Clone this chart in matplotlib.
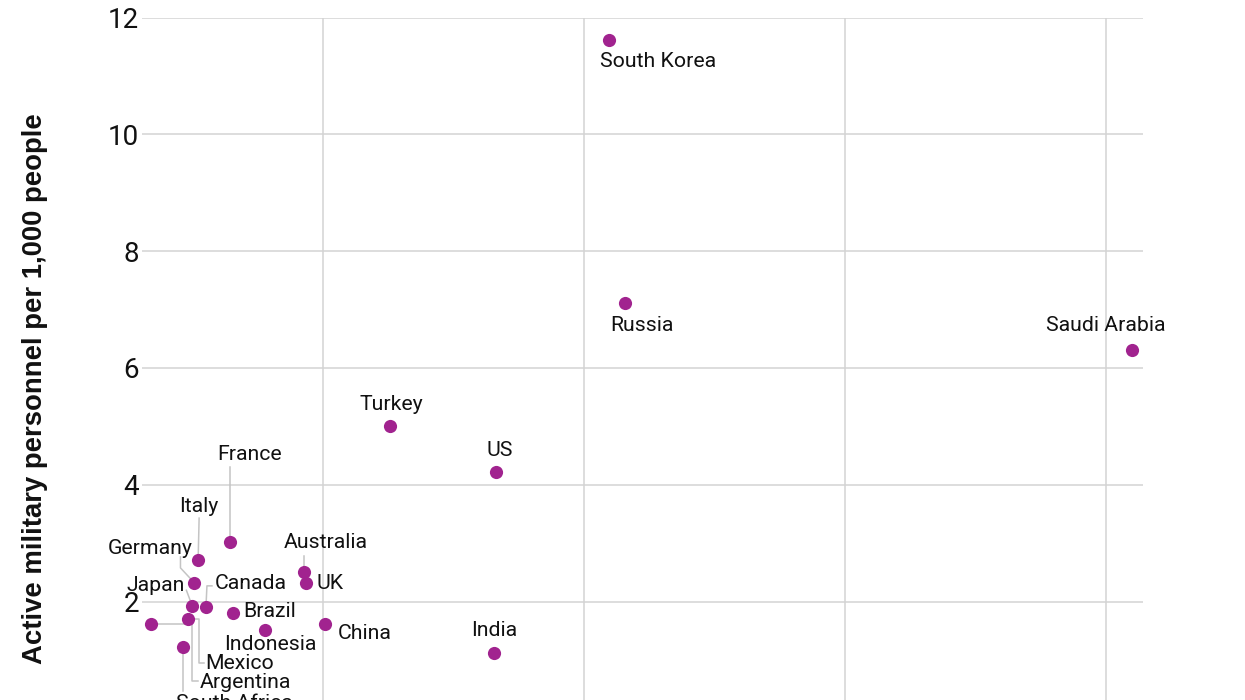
import matplotlib
matplotlib.use("Agg")
import matplotlib.pyplot as plt
from matplotlib.transforms import IdentityTransform

countries = ["South Korea", "Russia", "Saudi Arabia", "Turkey", "US", "France", "Italy",
             "Australia", "Germany", "UK", "Japan", "Canada", "Mexico", "Argentina",
             "South Africa", "Brazil", "Indonesia", "China", "India"]
x_values = [10.48, 10.78, 20.50, 6.28, 8.31, 3.21, 2.60,
            4.63, 2.53, 4.67, 2.49, 2.75, 2.41, 1.70,
            2.31, 3.27, 3.88, 5.03, 8.27]
y_values = [11.62, 7.11, 6.31, 5.01, 4.22, 3.02, 2.71,
            2.51, 2.32, 2.32, 1.92, 1.91, 1.70, 1.61,
            1.22, 1.80, 1.51, 1.61, 1.12]
y_ticks = [2, 4, 6, 8, 10, 12]
x_ticks = [5, 10, 15, 20]
y_title = "Active military personnel per 1,000 people"

# label placement in image pixels relative to dot centre (dx right, dy down), ha
label_style = {
    "South Korea": ((49, 22), "center", None),
    "Russia": ((17, 22), "center", None),
    "Saudi Arabia": ((-26, -24), "center", None),
    "Turkey": ((1, -21), "center", None),
    "US": ((4, -21), "center", None),
    "France": ((20, -88), "center", [(0, -75), (0, 0)]),
    "Italy": ((1, -54), "center", [(1, -42), (0, 0)]),
    "Australia": ((22, -29), "center", [(0, -16), (0, 0)]),
    "Germany": ((-44, -34), "center", [(-14, -26), (-14, -15), (0, 0)]),
    "UK": ((10, 1), "left", None),
    "Japan": ((-37, -21), "center", [(-6, -16), (0, 0)]),
    "Canada": ((45, -23), "center", [(6, -21), (1, -21), (0, 0)]),
    "Mexico": ((17, 44), "left", [(0, 0), (11, 0), (11, 44), (16, 44)]),
    "Argentina": ((49, 58), "left", [(0, 0), (41, 0), (41, 57), (47, 57)]),
    "South Africa": ((-7, 56), "left", [(0, 0), (0, 44)]),
    "Brazil": ((10, -2), "left", None),
    "Indonesia": ((5, 14), "center", None),
    "China": ((13, 9), "left", None),
    "India": ((0, -22), "center", None),
}

W, H, DPI = 1245, 700, 100
fig = plt.figure(figsize=(W / DPI, H / DPI), dpi=DPI)
fig.patch.set_facecolor("white")

left_px, right_px, top_px, bottom_px = 142, 1142.7, 17.6, 718.4
ax = fig.add_axes([left_px / W, 1 - bottom_px / H,
                   (right_px - left_px) / W, (bottom_px - top_px) / H])
ax.set_xlim(1.524, 20.71)
ax.set_ylim(0, 12)
for s in ax.spines.values():
    s.set_visible(False)
ax.set_yticks(y_ticks)
ax.set_xticks(x_ticks)
ax.grid(True, color="#d3d3d3", linewidth=1.1)
ax.set_axisbelow(True)
ax.tick_params(axis="both", length=0, labelsize=20, labelcolor="#111111", pad=2)
ax.tick_params(axis="x", labelbottom=False)
for lab in ax.get_yticklabels():
    lab.set_fontfamily("Roboto")

dot_color = "#a1238f"
ax.scatter(x_values, y_values, s=90, color=dot_color, zorder=4, clip_on=False,
           linewidths=0)

fig.canvas.draw()
for name, xv, yv in zip(countries, x_values, y_values):
    (dx, dy), ha, leader = label_style[name]
    px, py = ax.transData.transform((xv, yv))
    if leader:
        xs = [px + a for a, b in leader]
        ys = [py - b for a, b in leader]
        ax.add_line(plt.Line2D(xs, ys, transform=IdentityTransform(), color="#c4c4c4",
                               linewidth=1.1, zorder=3, clip_on=False))
    ax.annotate(name, (xv, yv), xytext=(dx, -dy), textcoords="offset pixels",
                ha=ha, va="center", fontsize=15.3, family="Roboto", color="#111111",
                zorder=5, annotation_clip=False)

fig.text(35 / W, 1 - 389 / H, y_title, rotation=90, ha="center", va="center",
         fontsize=19.8, fontweight="bold", family="Liberation Sans", color="#111111")

fig.savefig("out.png", dpi=DPI, facecolor="white")
